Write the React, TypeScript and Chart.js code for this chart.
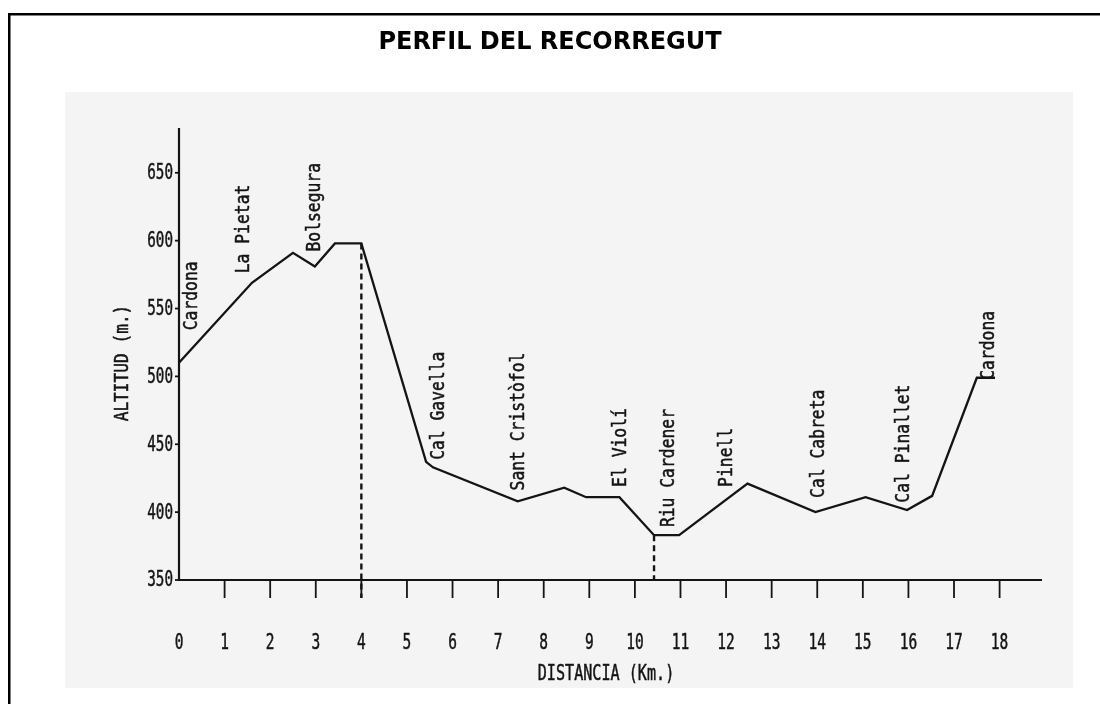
import React, { useEffect, useRef } from "react";
import { Chart, registerables } from "chart.js";

Chart.register(...registerables);

const TITLE = "PERFIL DEL RECORREGUT";
const X_TITLE = "DISTANCIA (Km.)";
const Y_TITLE = "ALTITUD (m.)";

// profile points: distance (km) and altitude (m)
const DIST_KM = [0, 1.6, 2.5, 2.98, 3.42, 4.0, 5.42, 5.57, 7.43, 8.45, 8.93, 9.66, 10.42, 10.97, 12.47, 13.96, 15.06, 15.97, 16.52, 17.5, 17.9];
const ALTITUDE = [510, 569, 591, 581, 598, 598, 437, 433, 408, 418, 411, 411, 383, 383, 421, 400, 411, 401.5, 412, 499, 499];

// axis ticks
const X_TICKS = [0, 1, 2, 3, 4, 5, 6, 7, 8, 9, 10, 11, 12, 13, 14, 15, 16, 17, 18];
const X_TICK_LABELS = ["0", "1", "2", "3", "4", "5", "6", "7", "8", "9", "10", "11", "12", "13", "14", "15", "16", "17", "18"];
const Y_TICKS = [350, 400, 450, 500, 550, 600, 650];

// place names, anchored (start of the vertical text) at a distance/altitude
const PLACES = ["Cardona", "La Pietat", "Bolsegura", "Cal Gavella", "Sant Cristòfol", "El Violí", "Riu Cardener", "Pinell", "Cal Cabreta", "Cal Pinallet", "Cardona"];
const PLACE_KM = [0.29, 1.42, 2.98, 5.71, 7.47, 9.7, 10.75, 12.02, 14.04, 15.9, 17.76];
const PLACE_ALT = [534, 576, 592, 438.5, 416, 418.6, 389, 418.6, 410.5, 407, 497.5];

// dashed markers: distance, from altitude, whether it runs past the axis
const MARK_KM = [4.0, 10.42];
const MARK_ALT = [598, 383];
const MARK_PAST_AXIS = [true, false];

const X_MIN = 0;
const X_MAX = 18.93;
const Y_MIN = 350;
const Y_MAX = 683;

const INK = "#141414";
const MONO = '"DejaVu Sans Mono", "Liberation Mono", monospace';

function condText(
  ctx: CanvasRenderingContext2D,
  text: string,
  x: number,
  y: number,
  size: number,
  sx: number,
  align: CanvasTextAlign,
  rotate: boolean
) {
  ctx.save();
  ctx.translate(x, y);
  if (rotate) ctx.rotate(-Math.PI / 2);
  ctx.scale(sx, 1);
  ctx.font = `${size}px ${MONO}`;
  ctx.textAlign = align;
  ctx.textBaseline = "middle";
  ctx.fillStyle = INK;
  ctx.strokeStyle = INK;
  ctx.lineWidth = 0.5;
  ctx.fillText(text, 0, 0);
  ctx.strokeText(text, 0, 0);
  ctx.restore();
}

const decorPlugin = {
  id: "decor",
  beforeDraw(chart: any) {
    const ctx: CanvasRenderingContext2D = chart.ctx;
    const W = chart.width;
    const H = chart.height;
    ctx.save();
    ctx.fillStyle = "#ffffff";
    ctx.fillRect(0, 0, W, H);
    // scanned paper area
    ctx.fillStyle = "#f4f4f4";
    ctx.fillRect(65, 92, 1008, 596);
    // frame
    ctx.fillStyle = "#000";
    ctx.fillRect(8, 13, W - 8, 2.5);
    ctx.fillRect(8, 13, 2.5, H - 13);
    // title
    ctx.font = `bold 24px "DejaVu Sans", Verdana, sans-serif`;
    ctx.textAlign = "center";
    ctx.textBaseline = "alphabetic";
    ctx.fillStyle = "#000";
    ctx.fillText(TITLE, 550, 49);
    ctx.restore();

    const xs = chart.scales.x;
    const ys = chart.scales.y;
    const area = chart.chartArea;
    const x0 = xs.getPixelForValue(0);
    const yb = ys.getPixelForValue(Y_MIN);

    ctx.save();
    ctx.strokeStyle = INK;
    ctx.lineCap = "butt";
    // axes
    ctx.lineWidth = 2.2;
    ctx.beginPath();
    ctx.moveTo(x0, area.top);
    ctx.lineTo(x0, yb);
    ctx.lineTo(area.right, yb);
    ctx.stroke();
    // x ticks
    ctx.lineWidth = 1.8;
    X_TICKS.forEach((v) => {
      if (v === 0) return;
      const px = xs.getPixelForValue(v);
      ctx.beginPath();
      ctx.moveTo(px, yb);
      ctx.lineTo(px, yb + 18);
      ctx.stroke();
    });
    // y ticks
    Y_TICKS.forEach((v) => {
      const py = ys.getPixelForValue(v);
      ctx.beginPath();
      ctx.moveTo(x0 - 4, py);
      ctx.lineTo(x0, py);
      ctx.stroke();
    });
    // dashed markers
    ctx.lineWidth = 2.4;
    ctx.setLineDash([6, 4]);
    MARK_KM.forEach((k, i) => {
      const px = xs.getPixelForValue(k);
      ctx.beginPath();
      ctx.moveTo(px, ys.getPixelForValue(MARK_ALT[i]));
      ctx.lineTo(px, MARK_PAST_AXIS[i] ? yb + 18 : yb);
      ctx.stroke();
    });
    ctx.setLineDash([]);
    ctx.restore();

    // tick labels
    X_TICKS.forEach((v, i) => {
      condText(ctx, X_TICK_LABELS[i], xs.getPixelForValue(v), 643, 22, 0.66, "center", false);
    });
    Y_TICKS.forEach((v) => {
      condText(ctx, String(v), x0 - 6, ys.getPixelForValue(v) + 1, 21, 0.68, "right", false);
    });
    // axis titles
    condText(ctx, X_TITLE, 606, 675, 21, 0.72, "center", false);
    condText(ctx, Y_TITLE, 123, 363, 19, 0.85, "center", true);
    // place names
    PLACES.forEach((name, i) => {
      condText(ctx, name, xs.getPixelForValue(PLACE_KM[i]), ys.getPixelForValue(PLACE_ALT[i]), 19, 0.86, "left", true);
    });
  },
};

export default function App() {
  const ref = useRef<HTMLCanvasElement | null>(null);
  useEffect(() => {
    if (!ref.current) return;
    const chart = new Chart(ref.current, {
      type: "line",
      data: {
        datasets: [
          {
            data: DIST_KM.map((d, i) => ({ x: d, y: ALTITUDE[i] })),
            borderColor: INK,
            borderWidth: 2.3,
            pointRadius: 0,
            tension: 0,
            fill: false,
          },
        ],
      },
      options: {
        animation: false,
        responsive: false,
        devicePixelRatio: 1,
        layout: { padding: { left: 179, right: 58, top: 128, bottom: 124 } },
        scales: {
          x: { type: "linear", min: X_MIN, max: X_MAX, display: false },
          y: { type: "linear", min: Y_MIN, max: Y_MAX, display: false },
        },
        plugins: { legend: { display: false }, tooltip: { enabled: false }, title: { display: false } },
      },
      plugins: [decorPlugin],
    });
    return () => chart.destroy();
  }, []);
  return (
    <div style={{ position: "absolute", left: 0, top: 0, width: 1100, height: 704 }}>
      <canvas ref={ref} width={1100} height={704} style={{ width: 1100, height: 704, display: "block" }} />
    </div>
  );
}
